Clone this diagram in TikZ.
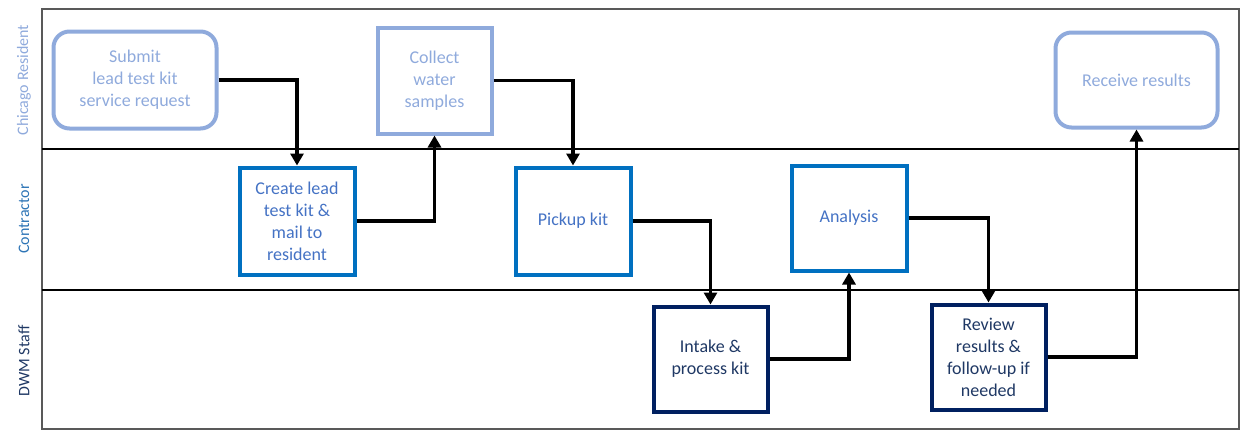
\documentclass[tikz,border=0pt]{standalone}
\usepackage{fontspec}
\setmainfont{Carlito}
\usetikzlibrary{arrows.meta}
\definecolor{resc}{HTML}{8FAADC}
\definecolor{conb}{HTML}{0070C0}
\definecolor{cont}{HTML}{4472C4}
\definecolor{conl}{HTML}{2E75B6}
\definecolor{dwmb}{HTML}{002060}
\definecolor{dwmt}{HTML}{1F3864}
\definecolor{framec}{HTML}{595959}
\tikzset{
  boxbase/.style={draw, line width=4pt, align=center, inner sep=2pt,
    font=\fontsize{18}{22}\selectfont},
  resbox/.style={boxbase, draw=resc, text=resc, rounded corners=16pt},
  resplain/.style={boxbase, draw=resc, text=resc},
  conbox/.style={boxbase, draw=conb, text=cont},
  dwmbox/.style={boxbase, draw=dwmb, text=dwmt},
  lanelabel/.style={rotate=90, font=\fontsize{16}{19}\selectfont},
  arr/.style={line width=3.5pt, -{Triangle[width=13pt,length=12pt]}},
}
\begin{document}
\begin{tikzpicture}[x=1pt,y=-1pt]
\useasboundingbox (0,0) rectangle (1243,434);
% swimlane frame
\draw[framec, line width=1.4pt] (42,9) rectangle (1239,429);
\draw[black, line width=1.6pt] (42,149) -- (1239,149);
\draw[black, line width=1.6pt] (42,290) -- (1239,290);
% lane labels
\node[lanelabel, text=resc] (lres) at (24,80) {Chicago Resident};
\node[lanelabel, text=conl] (lcon) at (24,219) {Contractor};
\node[lanelabel, text=dwmt] (ldwm) at (24,361) {DWM Staff};
% boxes
\node[resbox, minimum width=163pt, minimum height=97pt] (submit) at (135,80)
  {Submit\\lead test kit\\service request};
\node[resplain, minimum width=114pt, minimum height=106pt] (collect) at (434.5,80.5)
  {Collect\\water\\samples};
\node[resbox, minimum width=162pt, minimum height=95pt] (receive) at (1136.5,80)
  {Receive results};
\node[conbox, minimum width=115pt, minimum height=107pt] (create) at (297,221)
  {Create lead\\test kit \&\\mail to\\resident};
\node[conbox, minimum width=115pt, minimum height=107pt] (pickup) at (573,221)
  {Pickup kit};
\node[conbox, minimum width=115pt, minimum height=105pt] (analysis) at (849,218)
  {Analysis};
\node[dwmbox, minimum width=114pt, minimum height=105pt] (intake) at (710.5,359)
  {Intake \&\\process kit};
\node[dwmbox, minimum width=114pt, minimum height=105pt] (review) at (988.5,357)
  {Review\\results \&\\follow-up if\\needed};
% connectors
\draw[arr] (submit.east) -| (create.north);
\draw[arr] (create.east) -| (collect.south);
\draw[arr] (collect.east) -| (pickup.north);
\draw[arr] (pickup.east) -| (intake.north);
\draw[arr] (intake.east) -| (analysis.south);
\draw[arr] (analysis.east) -| (review.north);
\draw[arr] (review.east) -| (receive.south);
\end{tikzpicture}
\end{document}
